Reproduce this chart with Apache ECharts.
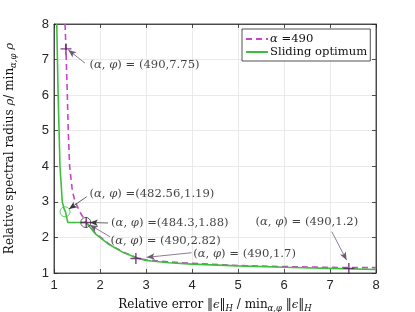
<!DOCTYPE html>
<html>
<head>
<meta charset="utf-8">
<script src="https://cdn.jsdelivr.net/npm/echarts@6/dist/echarts.min.js"></script>
<style>html,body{margin:0;padding:0;background:#fff}#c{width:415px;height:312px}</style>
</head>
<body>
<div id="c"></div>
<script>
// ---- data ----
var alphaX = [1.24, 1.26, 1.29, 1.31, 1.34, 1.40, 1.46, 1.57, 1.70, 1.90, 2.20, 2.50, 2.80, 3.00, 3.50, 4.00, 5.00, 6.00, 7.00, 7.45, 8.00];
var alphaY = [8.00, 7.30, 6.00, 5.00, 4.00, 3.30, 3.00, 2.70, 2.42, 2.12, 1.81, 1.59, 1.43, 1.37, 1.31, 1.27, 1.21, 1.18, 1.16, 1.15, 1.15];
var slideX = [1.06, 1.09, 1.11, 1.13, 1.18, 1.22, 1.25, 1.30, 1.70, 1.90, 2.20, 2.50, 2.80, 3.00, 3.50, 4.00, 5.00, 6.00, 7.00, 8.00];
var slideY = [8.00, 6.00, 5.00, 4.00, 3.00, 2.80, 2.72, 2.42, 2.42, 2.10, 1.80, 1.58, 1.42, 1.35, 1.29, 1.25, 1.20, 1.16, 1.13, 1.10];
var plusX = [1.26, 1.70, 2.78, 7.41];
var plusY = [7.30, 2.42, 1.41, 1.13];
var circX = [1.24, 1.69];
var circY = [2.72, 2.42];
var labelTexts = [
  '({i|α}, {i|φ}) = (490,7.75)',
  '({i|α}, {i|φ}) =(482.56,1.19)',
  '({i|α}, {i|φ}) =(484.3,1.88)',
  '({i|α}, {i|φ}) = (490,2.82)',
  '({i|α}, {i|φ}) = (490,1.7)',
  '({i|α}, {i|φ}) = (490,1.2)'
];
var xTicks = [1, 2, 3, 4, 5, 6, 7, 8];
var yTicks = [1, 2, 3, 4, 5, 6, 7, 8];

// ---- layout of annotations (data coordinates) ----
var labelAnchors = [[1.76, 6.85], [1.76, 3.22], [2.23, 2.41], [2.22, 1.91], [4.015, 1.53], [5.37, 2.44]];
var arrowSegs = [
  [[1.674, 6.90], [1.311, 7.27]],
  [[1.711, 3.145], [1.326, 2.80]],
  [[2.174, 2.406], [1.78, 2.42]],
  [[2.217, 2.02], [1.78, 2.35]],
  [[3.99, 1.57], [3.015, 1.44]],
  [[7.04, 2.16], [7.36, 1.365]]
];
var arrowColors = ['#6e5a78', '#3a3a3a', '#3a3a3a', '#6e5a78', '#6e5a78', '#6e5a78'];

function zip(a, b) { return a.map(function (v, i) { return [v, b[i]]; }); }

var serif = "'DejaVu Serif', 'Liberation Serif', serif";
var sans = "'Liberation Sans', Arial, sans-serif";
var FS = 11.6;
var TC = '#111';
var richCommon = {
  i: { fontStyle: 'italic', fontFamily: serif, fontSize: FS, color: TC },
  s: { fontStyle: 'italic', fontFamily: serif, fontSize: 8.5, color: TC, padding: [7, 0, 0, 0] }
};

var chart = echarts.init(document.getElementById('c'), null, { renderer: 'canvas' });

var arrowSeriesData = arrowSegs.map(function (s, k) {
  return [
    { coord: s[0], symbol: 'none' },
    { coord: s[1], symbol: 'arrow', symbolSize: [5, 8], lineStyle: { color: arrowColors[k] }, itemStyle: { color: arrowColors[k] } }
  ];
});

var axisCommon = {
  axisLine: { show: true, lineStyle: { color: '#262626', width: 0.8 } },
  axisTick: { show: true, inside: true, length: 4, lineStyle: { color: '#262626', width: 0.8 } }
};

var option = {
  animation: false,
  backgroundColor: '#fff',
  grid: { left: 54, right: 39, top: 24, bottom: 39, show: true, borderColor: '#262626', borderWidth: 0.8, backgroundColor: '#fff', outerBoundsMode: 'none', containLabel: false },
  legend: {
    left: 242, top: 29, orient: 'vertical', itemGap: 1, padding: [4, 3, 3, 3],
    itemWidth: 22, itemHeight: 12,
    backgroundColor: '#fff', borderColor: '#262626', borderWidth: 0.8, borderRadius: 0,
    itemStyle: { opacity: 0 },
    data: ['alpha', 'slide'],
    formatter: function (n) { return n === 'alpha' ? '{i|α} =490' : 'Sliding optimum'; },
    textStyle: { fontFamily: serif, fontSize: FS, color: TC, padding: [0, 0, 0, -3], rich: richCommon }
  },
  xAxis: [Object.assign({
    type: 'value', min: 1, max: 8, interval: 1,
    name: 'Relative error ‖{i|ϵ}‖{s|H} / min{s|α,φ} ‖{i|ϵ}‖{s|H}',
    nameLocation: 'middle', nameGap: 24,
    nameTextStyle: { fontFamily: serif, fontSize: FS + 0.4, color: TC, rich: richCommon },
    axisLabel: { fontFamily: sans, fontSize: 13, color: '#262626', margin: 6, formatter: function (v) { return xTicks.indexOf(v) >= 0 ? String(v) : ''; } },
    splitLine: { show: true, lineStyle: { color: '#e5e5e5', width: 0.8 } }
  }, axisCommon), Object.assign({
    type: 'value', min: 1, max: 8, interval: 1, position: 'top',
    axisLabel: { show: false }, splitLine: { show: false }
  }, axisCommon)],
  yAxis: [Object.assign({
    type: 'value', min: 1, max: 8, interval: 1,
    name: 'Relative spectral radius {i|ρ}/ min{s|α,φ} {i|ρ}',
    nameLocation: 'middle', nameGap: 36,
    nameTextStyle: { fontFamily: serif, fontSize: FS + 0.4, color: TC, rich: richCommon },
    axisLabel: { fontFamily: sans, fontSize: 13, color: '#262626', margin: 5, formatter: function (v) { return yTicks.indexOf(v) >= 0 ? String(v) : ''; } },
    splitLine: { show: true, lineStyle: { color: '#e5e5e5', width: 0.8 } }
  }, axisCommon), Object.assign({
    type: 'value', min: 1, max: 8, interval: 1, position: 'right',
    axisLabel: { show: false }, splitLine: { show: false }
  }, axisCommon)],
  series: [
    {
      name: 'alpha', type: 'line', data: zip(alphaX, alphaY), showSymbol: false, symbol: 'none',
      lineStyle: { color: '#c845c8', width: 1.6, type: [6, 4] }, itemStyle: { color: '#c845c8' }, z: 3
    },
    {
      name: 'slide', type: 'line', data: zip(slideX, slideY), showSymbol: false, symbol: 'none',
      lineStyle: { color: '#3cc03c', width: 1.6 }, itemStyle: { color: '#3cc03c' }, z: 4
    },
    {
      name: 'plus', type: 'scatter', data: zip(plusX, plusY), z: 6,
      symbol: 'path://M-0.65,-5H0.65V-0.65H5V0.65H0.65V5H-0.65V0.65H-5V-0.65H-0.65Z', symbolSize: 11,
      itemStyle: { color: '#5a1460' }
    },
    {
      name: 'circ', type: 'scatter', z: 5,
      symbol: 'circle', symbolSize: 10,
      itemStyle: { color: 'rgba(0,0,0,0)', borderWidth: 1 },
      data: [
        { value: [circX[0], circY[0]], itemStyle: { borderColor: '#3cc03c' } },
        { value: [circX[1], circY[1]], itemStyle: { borderColor: '#2f4a2f' } }
      ]
    },
    {
      name: 'labels', type: 'scatter', symbol: 'circle', symbolSize: 1, z: 7,
      itemStyle: { color: 'rgba(0,0,0,0)' },
      data: labelAnchors.map(function (p, k) {
        return { value: p, label: { show: true, position: 'right', distance: 0, formatter: labelTexts[k] } };
      }),
      label: { show: true, fontFamily: serif, fontSize: FS, color: TC, rich: richCommon },
      silent: true,
      markLine: {
        silent: true, animation: false, symbol: ['none', 'arrow'],
        label: { show: false },
        lineStyle: { type: 'solid', width: 0.8, color: '#6e5a78' },
        emphasis: { disabled: true },
        data: arrowSeriesData
      }
    }
  ]
};
chart.setOption(option);
</script>
</body>
</html>
